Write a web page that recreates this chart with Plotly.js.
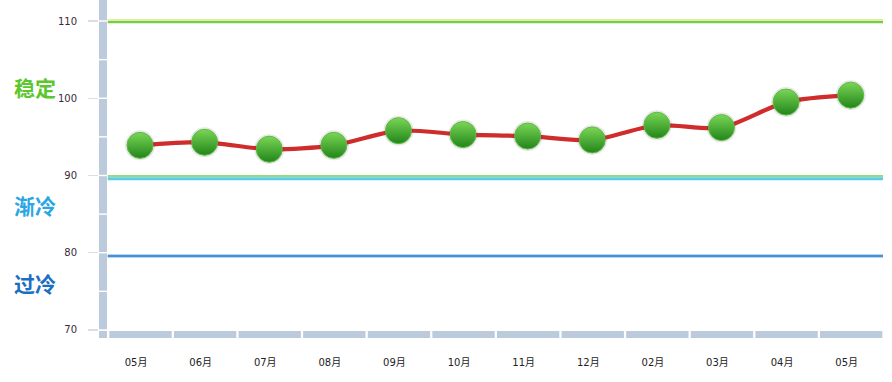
<!DOCTYPE html>
<html>
<head>
<meta charset="utf-8">
<script src="https://cdn.plot.ly/plotly-3.0.1.min.js"></script>
<style>html,body{margin:0;padding:0;background:#fff;} #chart{width:892px;height:382px;}</style>
</head>
<body>
<div id="chart"></div>
<script>
// ---- data ----
const months = ['05月','06月','07月','08月','09月','10月','11月','12月','02月','03月','04月','05月'];
const values = [93.9, 94.3, 93.4, 93.9, 95.8, 95.3, 95.1, 94.6, 96.5, 96.2, 99.5, 100.4];
const yTicks = [70, 80, 90, 100, 110];
const zoneLabels = ['稳定', '渐冷', '过冷'];
const zoneLabelY = [101.45, 86.15, 76.05];
const zoneColors = ['#5cc62e', '#2aa6e4', '#1b6fc2'];
const thresholdStable = 110;
const thresholdCool = 90;
const thresholdCold = 80;

const xIdx = months.map((_, i) => i);
const barColor = '#bccbdb';
const yMin = 68.96, yMax = 112.72;

const shapes = [];
// left vertical axis bar segments
for (let b = 70; b < 115; b += 5) {
  shapes.push({type:'rect', xref:'x', yref:'y', x0:-0.635, x1:-0.511,
    y0: b + 0.09, y1: Math.min(b + 5 - 0.09, yMax), fillcolor:barColor, line:{width:0}, layer:'below'});
}
// corner block
shapes.push({type:'rect', xref:'x', yref:'y', x0:-0.635, x1:-0.511, y0:yMin, y1:69.87,
  fillcolor:barColor, line:{width:0}, layer:'below'});
// bottom category bar segments
xIdx.forEach(i => {
  shapes.push({type:'rect', xref:'x', yref:'y', x0:i-0.475, x1:i+0.49, y0:yMin, y1:69.87,
    fillcolor:barColor, line:{width:0}, layer:'below'});
});
// threshold lines
function hline(y, color, width) {
  shapes.push({type:'line', xref:'x', yref:'y', x0:-0.5, x1:11.5, y0:y, y1:y,
    line:{color:color, width:width}, layer:'below'});
}
hline(thresholdStable + 0.12, '#e3ec9f', 2);
hline(thresholdStable - 0.15, '#6fd046', 2.2);
hline(thresholdCool - 0.06, '#97dc7a', 2);
hline(thresholdCool - 0.42, '#5cc9f0', 3);
hline(thresholdCold - 0.42, '#b5d7f2', 4);
hline(thresholdCold - 0.42, '#4a8fd6', 2);

const annotations = zoneLabels.map((t, i) => ({
  text: t, xref:'paper', yref:'y', x:-0.111, y: zoneLabelY[i], xanchor:'left', yanchor:'middle',
  showarrow:false, font:{family:'Noto Sans CJK SC', size:21, color:zoneColors[i], weight:'bold'}
}));

const traces = [
  {x:xIdx, y:values, type:'scatter', mode:'lines', line:{color:'#cf2c2c', width:4.2, shape:'spline', smoothing:0.8},
   hoverinfo:'skip', cliponaxis:false},
  {x:xIdx, y:values, type:'scatter', mode:'markers', marker:{size:30, color:'rgba(60,60,60,0.12)'}, hoverinfo:'skip', cliponaxis:false},
  {x:xIdx, y:values, type:'scatter', mode:'markers', cliponaxis:false,
   marker:{size:26, color:'#7ad656', gradient:{type:'vertical', color:'#22851a'}, line:{color:'#5cbc40', width:1}}}
];

const layout = {
  width:892, height:382,
  margin:{l:99, r:9, t:0, b:44},
  paper_bgcolor:'#fff', plot_bgcolor:'#fff',
  showlegend:false,
  xaxis:{range:[-0.635, 11.5], tickvals:xIdx, ticktext:months, showgrid:false, zeroline:false, showline:false,
    ticks:'outside', ticklen:15, tickcolor:'rgba(0,0,0,0)', ticklabelshift:-4,
    tickfont:{family:'DejaVu Sans, Noto Sans CJK SC', size:10, color:'#222'}},
  yaxis:{range:[yMin, yMax], tickvals:yTicks, showgrid:false, zeroline:false, showline:false,
    ticks:'outside', ticklen:10, tickcolor:'#d6dee7', tickwidth:1.5, ticklabelstandoff:9,
    tickfont:{family:'DejaVu Sans', size:10, color:'#3a2a3a'}},
  shapes:shapes,
  annotations:annotations
};

Plotly.newPlot('chart', traces, layout, {displayModeBar:false, staticPlot:true});
</script>
</body>
</html>
